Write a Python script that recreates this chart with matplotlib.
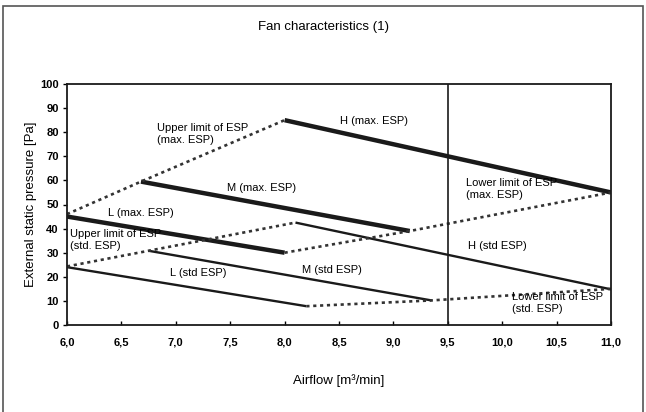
import matplotlib
matplotlib.use("Agg")
import matplotlib.pyplot as plt
from matplotlib.patches import Rectangle

plt.rcParams['font.family'] = ['Liberation Sans', 'DejaVu Sans']

# Fan curves (airflow m3/min, ESP Pa)
h_max_x = [8.0, 11.0];  h_max_y = [85, 55]
m_max_x = [6.68, 9.15]; m_max_y = [59.5, 39]
l_max_x = [6.0, 8.0];   l_max_y = [45, 30]
h_std_x = [8.1, 11.0];  h_std_y = [42.5, 14.8]
m_std_x = [6.75, 9.35]; m_std_y = [30.8, 10.2]
l_std_x = [6.0, 8.2];   l_std_y = [24, 7.8]

# Limit lines (dotted)
up_max_x = [6.0, 6.68, 8.0];   up_max_y = [46, 59.5, 85]
up_std_x = [6.0, 6.75, 8.1];   up_std_y = [24.3, 30.8, 42.5]
lo_max_x = [8.0, 9.15, 11.0];  lo_max_y = [30, 39, 55]
lo_std_x = [8.2, 9.35, 11.0];  lo_std_y = [7.8, 10.2, 15]

xticks = [6.0, 6.5, 7.0, 7.5, 8.0, 8.5, 9.0, 9.5, 10.0, 10.5, 11.0]
yticks = list(range(0, 101, 10))

fig = plt.figure(figsize=(6.46, 4.12), dpi=100)
fig.patches.append(Rectangle((3/646, -0.01), 640/646, (412-6)/412 + 0.01, transform=fig.transFigure,
                             fill=False, edgecolor='#555555', linewidth=1.2))
ax = fig.add_axes([67/646, (412-325)/412, (611-67)/646, (325-84)/412])

c = '#1a1a1a'
for x, y in [(h_max_x, h_max_y), (m_max_x, m_max_y), (l_max_x, l_max_y)]:
    ax.plot(x, y, color=c, lw=3.2, solid_capstyle='butt')
for x, y in [(h_std_x, h_std_y), (m_std_x, m_std_y), (l_std_x, l_std_y)]:
    ax.plot(x, y, color=c, lw=1.7, solid_capstyle='butt')
for x, y in [(up_max_x, up_max_y), (up_std_x, up_std_y), (lo_max_x, lo_max_y), (lo_std_x, lo_std_y)]:
    ax.plot(x, y, color='#333333', lw=1.9, linestyle=(0, (1.2, 1.4)))

ax.axvline(9.5, color=c, lw=1.2)

fs = 8
ls = 1.25
ax.text(6.83, 84, "Upper limit of ESP\n(max. ESP)", fontsize=fs, va='top', ha='left', linespacing=ls)
ax.text(8.51, 84.7, "H (max. ESP)", fontsize=fs, va='center', ha='left')
ax.text(7.47, 57, "M (max. ESP)", fontsize=fs, va='center', ha='left')
ax.text(6.38, 46.6, "L (max. ESP)", fontsize=fs, va='center', ha='left')
ax.text(6.03, 40, "Upper limit of ESP\n(std. ESP)", fontsize=fs, va='top', ha='left', linespacing=ls)
ax.text(6.95, 21.7, "L (std ESP)", fontsize=fs, va='center', ha='left')
ax.text(8.16, 23, "M (std ESP)", fontsize=fs, va='center', ha='left')
ax.text(9.67, 61, "Lower limit of ESP\n(max. ESP)", fontsize=fs, va='top', ha='left', linespacing=ls)
ax.text(9.69, 32.6, "H (std ESP)", fontsize=fs, va='center', ha='left')
ax.text(10.09, 13.8, "Lower limit of ESP\n(std. ESP)", fontsize=fs, va='top', ha='left', linespacing=ls)

ax.set_xlim(6.0, 11.0)
ax.set_ylim(0, 100)
ax.set_xticks(xticks)
ax.set_xticklabels([f"{v:.1f}".replace('.', ',') for v in xticks], fontweight='bold', fontsize=8)
ax.set_yticks(yticks)
ax.set_yticklabels([str(v) for v in yticks], fontweight='bold', fontsize=8)
ax.tick_params(axis='x', direction='in', length=3, pad=9, width=1)
ax.tick_params(axis='y', direction='out', length=3, pad=3, width=1)
for s in ax.spines.values():
    s.set_linewidth(1.3)
    s.set_color(c)

ax.set_xlabel("Airflow [m³/min]", fontsize=9.5, labelpad=19)
ax.set_ylabel("External static pressure [Pa]", fontsize=9.5, labelpad=2)
fig.text(323/646, 1 - 27/412, "Fan characteristics (1)", fontsize=9.5, ha='center', va='center')

fig.savefig("out.png", dpi=100)
